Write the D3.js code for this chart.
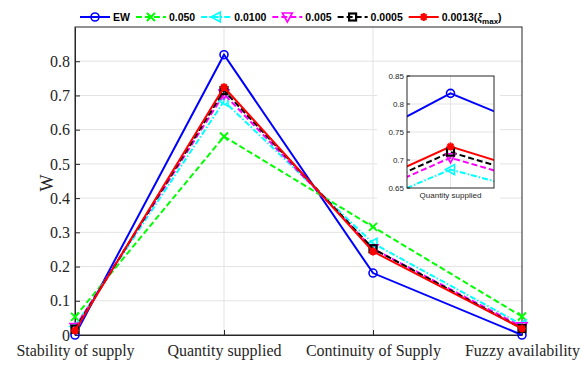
<!DOCTYPE html>
<html>
<head>
<meta charset="utf-8">
<script src="https://cdn.jsdelivr.net/npm/d3@7"></script>
<style>
  body { margin: 0; background: #fff; }
  svg { display: block; }
</style>
</head>
<body>
<svg id="chart"></svg>
<script>
var width = 581;
var height = 377;

// data
var categories = ['Stability of supply', 'Quantity supplied', 'Continuity of Supply', 'Fuzzy availability'];
var seriesNames = ['EW', '0.050', '0.0100', '0.005', '0.0005', '0.0013'];
var ew      = [0.000, 0.819, 0.181, 0.000];
var s0050   = [0.053, 0.580, 0.316, 0.054];
var s0100   = [0.025, 0.683, 0.268, 0.030];
var s0005   = [0.022, 0.704, 0.252, 0.024];
var s00005  = [0.017, 0.714, 0.252, 0.019];
var s0013   = [0.013, 0.724, 0.244, 0.019];
var yTicks = [0, 0.1, 0.2, 0.3, 0.4, 0.5, 0.6, 0.7, 0.8];
var insetTicks = [0.65, 0.7, 0.75, 0.8, 0.85];

var seriesValues = [ew, s0050, s0100, s0005, s00005, s0013];
var colors = ['#0000ff', '#00ff00', '#00ffff', '#ff00ff', '#000000', '#ff0000'];
var dashes = [null, '6,3', '6,2,1.5,2', '6,3', '6,3', null];
var shapes = ['circle', 'x', 'tri-left', 'tri-down', 'square', 'star'];

var serif = '"Liberation Serif", "Times New Roman", serif';
var sans = '"Liberation Sans", Arial, sans-serif';

var margin = {left: 75, right: 59, top: 27, bottom: 42};

var svg = d3.select('#chart')
  .attr('width', width)
  .attr('height', height);

var xScale = d3.scalePoint()
  .domain(d3.range(categories.length))
  .range([margin.left, width - margin.right]);

var yScale = d3.scaleLinear()
  .domain([0, 0.9])
  .range([height - margin.bottom, margin.top]);

// grid
svg.append('g')
  .selectAll('line')
  .data(yTicks.slice(1))
  .enter().append('line')
  .attr('x1', margin.left).attr('x2', width - margin.right)
  .attr('y1', d => yScale(d)).attr('y2', d => yScale(d))
  .attr('stroke', '#e3e3e3').attr('stroke-width', 1);

svg.append('g')
  .selectAll('line')
  .data(d3.range(1, categories.length - 1))
  .enter().append('line')
  .attr('x1', d => xScale(d)).attr('x2', d => xScale(d))
  .attr('y1', margin.top).attr('y2', height - margin.bottom)
  .attr('stroke', '#e3e3e3').attr('stroke-width', 1);

// box
svg.append('rect')
  .attr('x', margin.left).attr('y', margin.top)
  .attr('width', width - margin.left - margin.right)
  .attr('height', height - margin.top - margin.bottom)
  .attr('fill', 'none').attr('stroke', '#262626').attr('stroke-width', 1);

var xAxis = d3.axisBottom(xScale)
  .tickSize(-5).tickSizeOuter(0)
  .tickFormat(i => categories[i]);

var yAxis = d3.axisLeft(yScale)
  .tickValues(yTicks)
  .tickSize(-5).tickSizeOuter(0)
  .tickFormat(d => d === 0 ? '0' : d3.format('.1f')(d));

var gx = svg.append('g')
  .attr('transform', `translate(0, ${height - margin.bottom})`)
  .call(xAxis)
  .attr('font-family', serif)
  .attr('font-size', 16);
gx.select('.domain').attr('stroke', '#262626');
gx.selectAll('.tick line').attr('stroke', '#262626');
gx.selectAll('.tick text')
  .attr('y', 10)
  .attr('fill', '#262626');

var gy = svg.append('g')
  .attr('transform', `translate(${margin.left}, 0)`)
  .call(yAxis)
  .attr('font-family', serif)
  .attr('font-size', 16);
gy.select('.domain').attr('stroke', '#262626');
gy.selectAll('.tick line').attr('stroke', '#262626');
gy.selectAll('.tick text')
  .attr('x', -5)
  .attr('fill', '#262626');

//y-axis label
svg.append('text')
  .attr('transform', 'rotate(-90)')
  .attr('x', -183)
  .attr('y', 53)
  .style('text-anchor', 'middle')
  .style('font-family', serif)
  .style('font-size', '18px')
  .attr('fill', '#262626')
  .text('W');

function drawMarker(g, shape, color, cx, cy) {
  var r = 4;
  if (shape === 'circle') {
    g.append('circle').attr('cx', cx).attr('cy', cy).attr('r', r)
      .attr('fill', 'none').attr('stroke', color).attr('stroke-width', 1.6);
  } else if (shape === 'x') {
    g.append('path')
      .attr('d', `M${cx - r},${cy - r}L${cx + r},${cy + r}M${cx - r},${cy + r}L${cx + r},${cy - r}`)
      .attr('stroke', color).attr('stroke-width', 2);
  } else if (shape === 'tri-left') {
    g.append('path')
      .attr('d', `M${cx - r - 1},${cy}L${cx + r},${cy - r - 1}L${cx + r},${cy + r + 1}Z`)
      .attr('fill', 'none').attr('stroke', color).attr('stroke-width', 1.6);
  } else if (shape === 'tri-down') {
    g.append('path')
      .attr('d', `M${cx},${cy + r + 1}L${cx - r - 1},${cy - r}L${cx + r + 1},${cy - r}Z`)
      .attr('fill', 'none').attr('stroke', color).attr('stroke-width', 1.6);
  } else if (shape === 'square') {
    g.append('rect').attr('x', cx - r + 0.5).attr('y', cy - r + 0.5)
      .attr('width', 2 * r - 1).attr('height', 2 * r - 1)
      .attr('fill', 'none').attr('stroke', color).attr('stroke-width', 2.2);
  } else if (shape === 'star') {
    var p = '';
    for (var k = 0; k < 4; k++) {
      var a = k * Math.PI / 4;
      p += `M${cx - r * Math.cos(a)},${cy - r * Math.sin(a)}L${cx + r * Math.cos(a)},${cy + r * Math.sin(a)}`;
    }
    g.append('path').attr('d', p).attr('stroke', color).attr('stroke-width', 2.2);
  }
}

var line = d3.line()
  .x((d, i) => xScale(i))
  .y(d => yScale(d));

seriesValues.forEach(function(vals, s) {
  var g = svg.append('g');
  g.append('path')
    .datum(vals)
    .attr('d', line)
    .attr('fill', 'none')
    .attr('stroke', colors[s])
    .attr('stroke-width', 2)
    .attr('stroke-dasharray', dashes[s]);
  vals.forEach(function(v, i) {
    drawMarker(g, shapes[s], colors[s], xScale(i), yScale(v));
  });
});

// inset around "Quantity supplied"
var inset = {left: 407, right: 494, top: 76, bottom: 188};
var ix = d3.scaleLinear().domain([0.95, 1.05]).range([inset.left, inset.right]);
var iy = d3.scaleLinear().domain([0.65, 0.85]).range([inset.bottom, inset.top]);

var ig = svg.append('g');
ig.append('rect')
  .attr('x', inset.left - 30).attr('y', inset.top - 8)
  .attr('width', inset.right - inset.left + 36).attr('height', inset.bottom - inset.top + 22)
  .attr('fill', '#fff');

ig.selectAll('line.ih')
  .data(insetTicks.slice(1, -1))
  .enter().append('line')
  .attr('x1', inset.left).attr('x2', inset.right)
  .attr('y1', d => iy(d)).attr('y2', d => iy(d))
  .attr('stroke', '#e3e3e3');
ig.append('line')
  .attr('x1', ix(1)).attr('x2', ix(1))
  .attr('y1', inset.top).attr('y2', inset.bottom)
  .attr('stroke', '#e3e3e3');

svg.append('clipPath').attr('id', 'insetClip')
  .append('rect')
  .attr('x', inset.left).attr('y', inset.top)
  .attr('width', inset.right - inset.left).attr('height', inset.bottom - inset.top);

var iline = d3.line()
  .x((d, i) => ix(i))
  .y(d => iy(d));

var ilines = ig.append('g').attr('clip-path', 'url(#insetClip)');
seriesValues.forEach(function(vals, s) {
  ilines.append('path')
    .datum(vals)
    .attr('d', iline)
    .attr('fill', 'none')
    .attr('stroke', colors[s])
    .attr('stroke-width', 2)
    .attr('stroke-dasharray', dashes[s]);
});
seriesValues.forEach(function(vals, s) {
  if (vals[1] >= 0.65 && vals[1] <= 0.85) drawMarker(ig, shapes[s], colors[s], ix(1), iy(vals[1]));
});

ig.append('rect')
  .attr('x', inset.left).attr('y', inset.top)
  .attr('width', inset.right - inset.left).attr('height', inset.bottom - inset.top)
  .attr('fill', 'none').attr('stroke', '#262626').attr('stroke-width', 1);

ig.selectAll('line.itick')
  .data(insetTicks)
  .enter().append('line')
  .attr('x1', inset.left).attr('x2', inset.left + 3)
  .attr('y1', d => iy(d)).attr('y2', d => iy(d))
  .attr('stroke', '#262626');

ig.selectAll('text.ilab')
  .data(insetTicks)
  .enter().append('text')
  .attr('x', inset.left - 3)
  .attr('y', d => iy(d))
  .attr('dy', '0.35em')
  .style('text-anchor', 'end')
  .style('font-family', sans)
  .style('font-size', '8px')
  .attr('fill', '#262626')
  .text(d => d3.format('.2~f')(d));

ig.append('text')
  .attr('x', ix(1))
  .attr('y', inset.bottom + 10)
  .style('text-anchor', 'middle')
  .style('font-family', sans)
  .style('font-size', '8px')
  .attr('fill', '#262626')
  .text(categories[1]);

// legend
var legend = svg.append('g').attr('transform', 'translate(80, 17)');
var lx = 0;
seriesNames.forEach(function(name, s) {
  var item = legend.append('g').attr('transform', `translate(${lx}, 0)`);
  item.append('line')
    .attr('x1', 0).attr('x2', 30)
    .attr('stroke', colors[s]).attr('stroke-width', 2)
    .attr('stroke-dasharray', dashes[s]);
  drawMarker(item, shapes[s], colors[s], 15, 0);
  var t = item.append('text')
    .attr('x', 33)
    .attr('dy', '0.35em')
    .style('font-family', sans)
    .style('font-size', '10.5px')
    .style('font-weight', 'bold')
    .text(name);
  if (s === seriesNames.length - 1) {
    t.append('tspan').text('(');
    t.append('tspan').style('font-style', 'italic').text('ξ');
    t.append('tspan').attr('dy', '3').style('font-size', '8px').text('max');
    t.append('tspan').attr('dy', '-3').text(')');
  }
  lx += 33 + t.node().getComputedTextLength() + 6;
});
</script>
</body>
</html>
